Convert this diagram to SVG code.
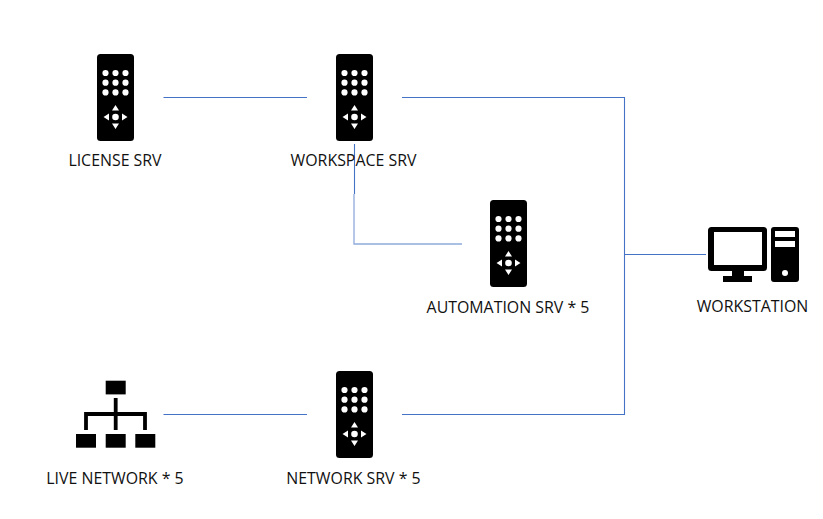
<svg xmlns="http://www.w3.org/2000/svg" width="823" height="519" viewBox="0 0 823 519">
<style>
text{font-family:"Open Sans","Noto Sans","Liberation Sans",sans-serif;font-size:15.9px;fill:#111;text-anchor:middle}
.c{fill:none;stroke:#4472c4;stroke-width:1.1}
.l{fill:none;stroke:#8faadc;stroke-width:1.3}
.k{fill:#000}.w{fill:#fff}
</style>
<defs>
<g id="remote">
<rect class="k" x="0" y="0" width="37" height="87" rx="3.5"/>
<g class="w">
<circle cx="8.500" cy="19" r="3.100"/><circle cx="18.500" cy="19" r="3.100"/><circle cx="28.500" cy="19" r="3.100"/>
<circle cx="8.500" cy="28.700" r="3.100"/><circle cx="18.500" cy="28.700" r="3.100"/><circle cx="28.500" cy="28.700" r="3.100"/>
<circle cx="8.500" cy="38.400" r="3.100"/><circle cx="18.500" cy="38.400" r="3.100"/><circle cx="28.500" cy="38.400" r="3.100"/>
<circle cx="18.500" cy="63" r="3.300"/>
<path d="M18.500 51l3.500 5.500h-7zM18.500 75l3.500-5.500h-7zM6.500 63l5.500-3.500v7zM30.500 63l-5.500-3.500v7z"/>
</g>
</g>
</defs>
<g id="connectors">
<path class="c" d="M163.500 97.500H307"/>
<path class="c" d="M402 97.500H624.500V414.500H402"/>
<path class="c" d="M624.500 254.500H706"/>
<path class="c" d="M163.500 414.500H307"/>
<path class="c" d="M354.500 144V194"/>
<path class="l" d="M354 194V244H462"/>
</g>
<g id="license-srv"><use href="#remote" x="97" y="54"/><text x="115" y="166">LICENSE SRV</text></g>
<g id="workspace-srv"><use href="#remote" x="336" y="54"/><text x="353.500" y="166">WORKSPACE SRV</text></g>
<g id="automation-srv"><use href="#remote" x="490" y="200"/><text x="508" y="313">AUTOMATION SRV * 5</text></g>
<g id="network-srv"><use href="#remote" x="336" y="371"/><text x="353.500" y="484">NETWORK SRV * 5</text></g>
<g id="workstation">
<rect class="k" x="708" y="227" width="59" height="44" rx="3.500"/>
<rect class="w" x="714" y="232" width="48" height="33"/>
<path class="k" d="M732 270h12v6h8v6h-29v-6h9z"/>
<path class="k" fill-rule="evenodd" d="M774 227h22a3 3 0 0 1 3 3v49a3 3 0 0 1-3 3h-22a3 3 0 0 1-3-3v-49a3 3 0 0 1 3-3zM775 231v6h20v-6zM775 241v6h20v-6z"/>
<circle class="w" cx="785" cy="273" r="3"/>
<text x="752.500" y="312">WORKSTATION</text>
</g>
<g id="live-network">
<rect class="k" x="105.700" y="380.700" width="20" height="13.700"/>
<rect class="k" x="76" y="434" width="20" height="13.700"/>
<rect class="k" x="105.700" y="434" width="20" height="13.700"/>
<rect class="k" x="135.300" y="434" width="20" height="13.700"/>
<path d="M115.700 398V430M86 430V414H145V430" fill="none" stroke="#000" stroke-width="3.800"/>
<text x="115" y="484">LIVE NETWORK * 5</text>
</g>
</svg>
